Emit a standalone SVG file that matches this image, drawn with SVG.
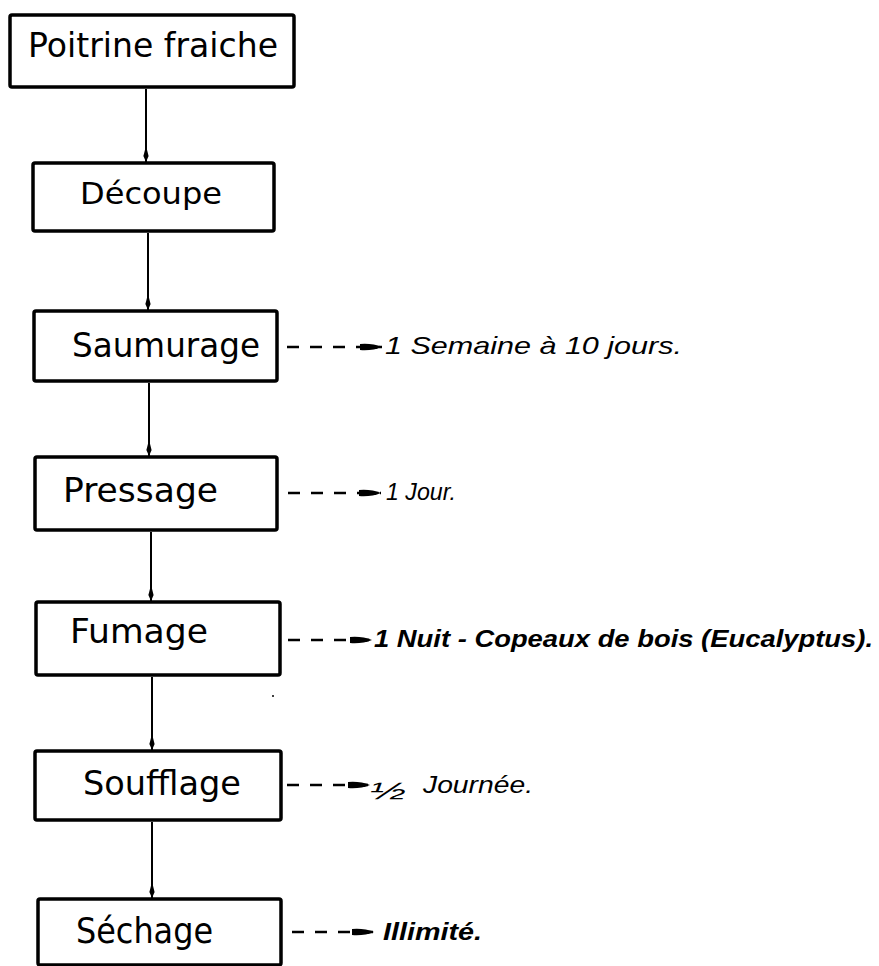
<svg xmlns="http://www.w3.org/2000/svg" width="879" height="966" viewBox="0 0 879 966">
  <style>
    .box { fill: #fff; stroke: #000; stroke-width: 3.5; stroke-linejoin: round; }
    .lbl { font-family: "DejaVu Sans", "Liberation Sans", sans-serif; fill: #000; }
    .note { font-family: "Liberation Sans", "DejaVu Sans", sans-serif; font-style: italic; fill: #000; font-size: 24px; }
    .flow { stroke: #000; stroke-width: 2; fill: none; }
    .dash { stroke: #000; stroke-width: 2.6; fill: none; stroke-dasharray: 12 11; }
  </style>
  <defs>
    <marker id="tip" viewBox="0 0 16 6" refX="16" refY="3" markerWidth="16" markerHeight="6" orient="auto" markerUnits="userSpaceOnUse">
      <path d="M0,3 L10,0.4 L16,3 L10,5.6 Z" fill="#000"/>
    </marker>
    <marker id="bullet" viewBox="0 0 22 8" refX="22" refY="4" markerWidth="22" markerHeight="8" orient="auto" markerUnits="userSpaceOnUse">
      <path d="M0,1 Q12,0 22,4 Q12,8 0,7 Z" fill="#000"/>
    </marker>
  </defs>

  <!-- process steps -->
  <g id="poitrine">
    <rect class="box" x="10" y="15" width="284" height="72" rx="2"/>
    <text class="lbl" x="28" y="57" font-size="33" textLength="250" lengthAdjust="spacingAndGlyphs">Poitrine fraiche</text>
  </g>
  <g id="decoupe">
    <rect class="box" x="33" y="163" width="241" height="68" rx="2"/>
    <text class="lbl" x="80" y="204" font-size="30" textLength="142" lengthAdjust="spacingAndGlyphs">Découpe</text>
  </g>
  <g id="saumurage">
    <rect class="box" x="34" y="311" width="243" height="70" rx="2"/>
    <text class="lbl" x="72" y="357" font-size="34" textLength="188" lengthAdjust="spacingAndGlyphs">Saumurage</text>
  </g>
  <g id="pressage">
    <rect class="box" x="35" y="457" width="242" height="73" rx="2"/>
    <text class="lbl" x="63" y="502" font-size="34" textLength="155" lengthAdjust="spacingAndGlyphs">Pressage</text>
  </g>
  <g id="fumage">
    <rect class="box" x="36" y="602" width="244" height="73" rx="2"/>
    <text class="lbl" x="70" y="643" font-size="34" textLength="138" lengthAdjust="spacingAndGlyphs">Fumage</text>
  </g>
  <g id="soufflage">
    <rect class="box" x="35" y="751" width="246" height="69" rx="2"/>
    <text class="lbl" x="83" y="795" font-size="34" textLength="158" lengthAdjust="spacingAndGlyphs">Soufflage</text>
  </g>
  <g id="sechage">
    <rect class="box" x="38" y="899" width="243" height="66" rx="2"/>
    <text class="lbl" x="76" y="943" font-size="35" textLength="137" lengthAdjust="spacingAndGlyphs">Séchage</text>
  </g>

  <!-- durations -->
  <g id="note-saumurage">
    <text class="note" x="385" y="354" textLength="297" lengthAdjust="spacingAndGlyphs">1 Semaine à 10 jours.</text>
  </g>
  <g id="note-pressage">
    <text class="note" x="386" y="500" font-size="22" textLength="70" lengthAdjust="spacingAndGlyphs">1 Jour.</text>
  </g>
  <g id="note-fumage">
    <text class="note" x="374" y="647" font-weight="bold" textLength="499" lengthAdjust="spacingAndGlyphs">1 Nuit - Copeaux de bois (Eucalyptus).</text>
  </g>
  <g id="note-soufflage">
    <text class="note" x="370" y="799" font-size="46" textLength="36" lengthAdjust="spacingAndGlyphs">½</text>
    <text class="note" x="423" y="793" textLength="110" lengthAdjust="spacingAndGlyphs">Journée.</text>
  </g>
  <g id="note-sechage">
    <text class="note" x="383" y="940" font-weight="bold" textLength="99" lengthAdjust="spacingAndGlyphs">Illimité.</text>
  </g>

  <!-- connectors -->
  <g id="connectors">
    <line class="flow" x1="146" y1="89" x2="146" y2="162" marker-end="url(#tip)"/>
    <line class="flow" x1="148" y1="233" x2="148" y2="310" marker-end="url(#tip)"/>
    <line class="flow" x1="149" y1="383" x2="149" y2="456" marker-end="url(#tip)"/>
    <line class="flow" x1="151" y1="532" x2="151" y2="601" marker-end="url(#tip)"/>
    <line class="flow" x1="152" y1="677" x2="152" y2="750" marker-end="url(#tip)"/>
    <line class="flow" x1="152" y1="822" x2="152" y2="898" marker-end="url(#tip)"/>

    <line class="dash" x1="287" y1="347" x2="382" y2="347" marker-end="url(#bullet)"/>
    <line class="dash" x1="288" y1="493" x2="381" y2="493" marker-end="url(#bullet)"/>
    <line class="dash" x1="288" y1="640" x2="372" y2="640" marker-end="url(#bullet)"/>
    <line class="dash" x1="287" y1="785" x2="370" y2="785" marker-end="url(#bullet)"/>
    <line class="dash" x1="292" y1="932" x2="374" y2="932" marker-end="url(#bullet)"/>
  </g>

  <!-- stray speck below the smoking step -->
  <circle cx="273" cy="696" r="1" fill="#000"/>
</svg>
